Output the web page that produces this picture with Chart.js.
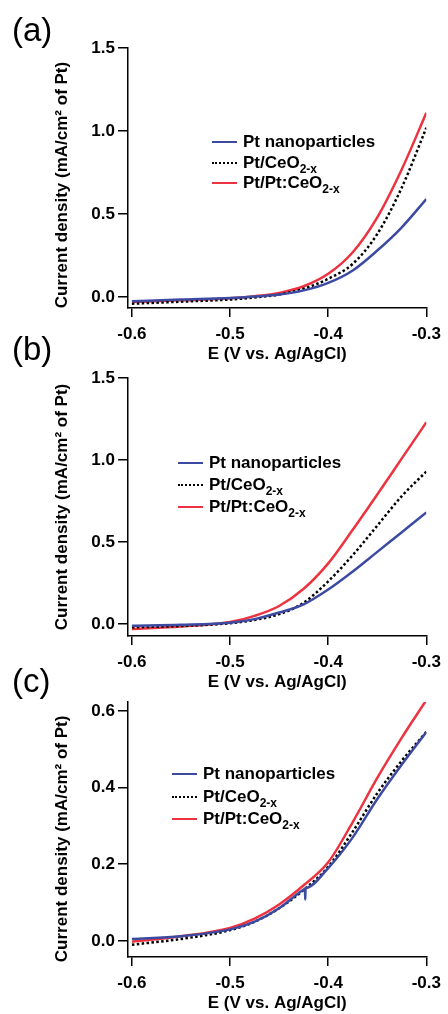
<!DOCTYPE html>
<html>
<head>
<meta charset="utf-8">
<script src="https://cdn.jsdelivr.net/npm/chart.js@4.4.1/dist/chart.umd.min.js"></script>
<style>
  body { margin: 0; background: #fff; width: 448px; height: 1014px; position: relative; overflow: hidden;
         font-family: "Liberation Sans", Arial, sans-serif; }
  .panel { position: absolute; left: 0; width: 448px; }
  .tag { position: absolute; left: 12px; font-size: 33px; line-height: 33px; color: #000; }
  .leg { position: absolute; font-size: 17px; font-weight: bold; color: #000; white-space: nowrap;
         display: flex; align-items: center; height: 20px; }
  .leg .sample { display: inline-block; width: 25px; margin-right: 6px; }
  .leg sub { font-size: 12px; vertical-align: -5px; line-height: 0; }
</style>
</head>
<body>
<script>
// potential (V vs. Ag/AgCl)
const potential = [-0.6, -0.55, -0.5, -0.475, -0.45, -0.425, -0.4, -0.375, -0.35, -0.325, -0.3];

// (a)
const aBlue   = [-0.025, -0.015, -0.006, 0.003, 0.015, 0.04, 0.085, 0.16, 0.28, 0.42, 0.59];
const aDotted = [-0.04, -0.028, -0.015, -0.003, 0.015, 0.05, 0.11, 0.2, 0.38, 0.66, 1.02];
const aRed    = [-0.03, -0.02, -0.008, 0.005, 0.025, 0.065, 0.14, 0.27, 0.48, 0.77, 1.11];

// (b)
const bBlue   = [-0.01, -0.005, 0.008, 0.03, 0.07, 0.12, 0.21, 0.32, 0.44, 0.56, 0.68];
const bDotted = [-0.02, -0.012, 0.005, 0.025, 0.06, 0.13, 0.26, 0.42, 0.6, 0.78, 0.93];
const bRed    = [-0.03, -0.015, 0.012, 0.05, 0.11, 0.215, 0.37, 0.575, 0.79, 1.01, 1.23];

// (c) - blue trace has a small glitch near -0.423 V
const cBluePotential = [-0.6, -0.55, -0.5, -0.475, -0.45, -0.43, -0.4242, -0.4237, -0.4234, -0.4231, -0.4226, -0.4, -0.375, -0.35, -0.325, -0.3];
const cBlue   = [0.005, 0.012, 0.03, 0.05, 0.085, 0.125, 0.135, 0.136, 0.108, 0.137, 0.138, 0.19, 0.27, 0.37, 0.46, 0.545];
const cDotted = [-0.01, 0.005, 0.028, 0.05, 0.085, 0.133, 0.193, 0.285, 0.385, 0.47, 0.545];
const cRed    = [-0.002, 0.012, 0.034, 0.058, 0.095, 0.145, 0.205, 0.31, 0.425, 0.53, 0.628];

const seriesNames = ["Pt nanoparticles", "Pt/CeO", "Pt/Pt:CeO"];
const seriesSubs  = ["", "2-x", "2-x"];
const xTicks   = [-0.6, -0.5, -0.4, -0.3];
const abYTicks = [0, 0.5, 1.0, 1.5];
const cYTicks  = [0, 0.2, 0.4, 0.6];
const panelTags = ["(a)", "(b)", "(c)"];

const BLUE = "#3d4aa2";
const RED = "#ee3340";
const FONT = "'Liberation Sans', Arial, sans-serif";
const Y_TITLE = "Current density (mA/cm² of Pt)";

function pairs(xs, ys) {
  return xs.map((x, i) => ({ x: x, y: ys[i] }));
}

function panel(cfg) {
  const wrap = document.createElement("div");
  wrap.className = "panel";
  wrap.style.top = cfg.top + "px";
  wrap.innerHTML = `<canvas width="448" height="${cfg.height}"></canvas>`;
  document.body.appendChild(wrap);

  const tag = document.createElement("div");
  tag.className = "tag";
  tag.style.top = cfg.tagTop + "px";
  tag.textContent = cfg.tag;
  document.body.appendChild(tag);

  const datasets = [
    { label: seriesNames[0], data: cfg.blue, borderColor: BLUE, borderWidth: 2.5 },
    { label: seriesNames[1], data: cfg.dotted, borderColor: "#000", borderWidth: 2.5, borderDash: [2.5, 2.4] },
    { label: seriesNames[2], data: cfg.red, borderColor: RED, borderWidth: 2.5 }
  ];

  const axisFont = { family: FONT, size: 17, weight: "bold" };

  new Chart(wrap.querySelector("canvas").getContext("2d"), {
    type: "line",
    data: { datasets: datasets },
    options: {
      responsive: false,
      animation: false,
      layout: { padding: { left: 0, right: 448 - cfg.right, top: cfg.plotTop, bottom: 0 } },
      plugins: { legend: { display: false }, tooltip: { enabled: false } },
      elements: {
        point: { radius: 0 },
        line: { cubicInterpolationMode: "monotone", fill: false }
      },
      scales: {
        x: {
          type: "linear", min: -0.604, max: -0.3,
          afterBuildTicks: s => { s.ticks = xTicks.map(v => ({ value: v })); },
          afterFit: s => { s.height = cfg.height - cfg.plotBottom; },
          border: { color: "#000", width: 1.5 },
          grid: { drawOnChartArea: false, color: "#000", lineWidth: 1.5, tickLength: 9 },
          ticks: { color: "#000", font: axisFont, padding: 7, maxRotation: 0, callback: v => v.toFixed(1) },
          title: { display: true, text: "E (V vs. Ag/AgCl)", color: "#000", font: axisFont,
                   padding: { top: 0, bottom: cfg.xTitlePad } }
        },
        y: {
          type: "linear", min: cfg.yMin, max: cfg.yMax,
          afterBuildTicks: s => { s.ticks = cfg.yTicks.map(v => ({ value: v })); },
          afterFit: s => { s.width = 128; },
          border: { color: "#000", width: 1.5 },
          grid: { drawOnChartArea: false, color: "#000", lineWidth: 1.5, tickLength: 10 },
          ticks: { color: "#000", font: axisFont, padding: 3, callback: v => v.toFixed(1) },
          // trailing spaces nudge the rotated title down a little, as in the original
          title: { display: true, text: Y_TITLE + " ".repeat(cfg.yTitleNudge), color: "#000", font: axisFont,
                   padding: { top: 52, bottom: 0 } }
        }
      }
    }
  });

  // legend with subscripts, built from the datasets
  datasets.forEach((ds, i) => {
    const row = document.createElement("div");
    row.className = "leg";
    row.style.left = cfg.legLeft + "px";
    row.style.top = (cfg.legTop + i * cfg.legStep - 10) + "px";
    const dash = ds.borderDash ? "dotted" : "solid";
    row.innerHTML = `<span class="sample" style="border-top:2.5px ${dash} ${ds.borderColor}"></span>` +
      `<span>${seriesNames[i]}${seriesSubs[i] ? "<sub>" + seriesSubs[i] + "</sub>" : ""}</span>`;
    document.body.appendChild(row);
  });
}

panel({
  tag: panelTags[0], tagTop: 13, top: 0, height: 372, plotTop: 48, plotBottom: 308, right: 428,
  yMin: -0.066, yMax: 1.5, yTicks: abYTicks, xTitlePad: 7, yTitleNudge: 3,
  blue: pairs(potential, aBlue), dotted: pairs(potential, aDotted), red: pairs(potential, aRed),
  legLeft: 212, legTop: 142, legStep: 20.5
});

panel({
  tag: panelTags[1], tagTop: 332, top: 330, height: 372, plotTop: 48, plotBottom: 306, right: 432,
  yMin: -0.073, yMax: 1.5, yTicks: abYTicks, xTitlePad: 9, yTitleNudge: 0,
  blue: pairs(potential, bBlue), dotted: pairs(potential, bDotted), red: pairs(potential, bRed),
  legLeft: 178, legTop: 463, legStep: 22
});

panel({
  tag: panelTags[2], tagTop: 664, top: 670, height: 344, plotTop: 32, plotBottom: 287, right: 431,
  yMin: -0.042, yMax: 0.623, yTicks: cYTicks, xTitlePad: 0, yTitleNudge: 4,
  blue: pairs(cBluePotential, cBlue), dotted: pairs(potential, cDotted), red: pairs(potential, cRed),
  legLeft: 172, legTop: 774, legStep: 22.5
});
</script>
</body>
</html>
